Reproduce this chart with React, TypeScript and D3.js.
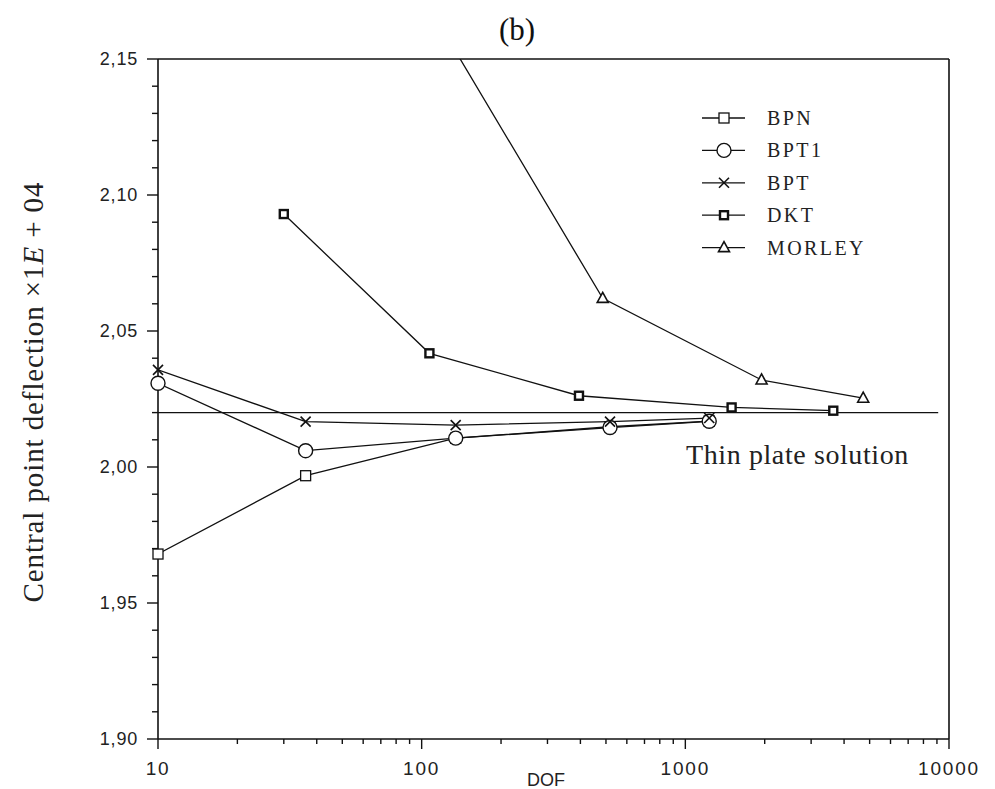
import React from 'react';
import * as d3 from 'd3';

// values
const bpnDof = [10, 36.3, 134.6, 518, 1232];
const bpnVal = [1.968, 1.9968, 2.0106, 2.0148, 2.0169];

const bpt1Dof = [10, 36.3, 134.6, 518, 1232];
const bpt1Val = [2.0308, 2.006, 2.0106, 2.0145, 2.0168];

const bptDof = [10, 36.3, 134.6, 518, 1232];
const bptVal = [2.0357, 2.0167, 2.0154, 2.0167, 2.018];

const dktDof = [30, 107, 395, 1498, 3640];
const dktVal = [2.093, 2.0418, 2.0262, 2.0219, 2.0207];

const morleyDof = [125, 486, 1946, 4727];
const morleyVal = [2.158, 2.062, 2.032, 2.0253];

const thinPlateVal = 2.02;
const thinPlateDof = [10, 9100];

const yMajor = [1.9, 1.95, 2.0, 2.05, 2.1, 2.15];
const yLabels = ['1,90', '1,95', '2,00', '2,05', '2,10', '2,15'];
const yMinor = [1.91, 1.92, 1.93, 1.94, 1.96, 1.97, 1.98, 1.99, 2.01, 2.02, 2.03, 2.04, 2.06, 2.07, 2.08, 2.09, 2.11, 2.12, 2.13, 2.14];
const xMajor = [10, 100, 1000, 10000];
const xLabels = ['10', '100', '1000', '10000'];
const xMinor = [20, 30, 40, 50, 60, 70, 80, 90, 200, 300, 400, 500, 600, 700, 800, 900, 2000, 3000, 4000, 5000, 6000, 7000, 8000, 9000];

const seriesNames = ['BPN', 'BPT1', 'BPT', 'DKT', 'MORLEY'];

const W = 995, H = 789;
const left = 158, right = 949, top = 59, bottom = 739;

const x = d3.scaleLog().domain([10, 10000]).range([left, right]);
const y = d3.scaleLinear().domain([1.9, 2.15]).range([bottom, top]);

const sans = '"Liberation Sans", Arial, sans-serif';
const serif = '"Liberation Serif", "Times New Roman", serif';

type Kind = 'square' | 'circle' | 'cross' | 'dkt' | 'triangle';

function Marker({ kind, cx, cy }: { kind: Kind; cx: number; cy: number }) {
  if (kind === 'square')
    return <rect x={cx - 5} y={cy - 5} width={10} height={10} fill="#fff" stroke="#111" strokeWidth={1.3} />;
  if (kind === 'circle')
    return <circle cx={cx} cy={cy} r={7} fill="#fff" stroke="#111" strokeWidth={1.4} />;
  if (kind === 'cross')
    return (
      <g stroke="#111" strokeWidth={1.6}>
        <line x1={cx - 5} y1={cy - 5} x2={cx + 5} y2={cy + 5} />
        <line x1={cx - 5} y1={cy + 5} x2={cx + 5} y2={cy - 5} />
      </g>
    );
  if (kind === 'dkt')
    return <rect x={cx - 4} y={cy - 4} width={8} height={8} fill="#fff" stroke="#111" strokeWidth={2.4} />;
  return <path d={`M${cx},${cy - 6}L${cx + 5.5},${cy + 4}L${cx - 5.5},${cy + 4}Z`} fill="#fff" stroke="#111" strokeWidth={1.6} />;
}

const series: { name: string; kind: Kind; dof: number[]; val: number[] }[] = [
  { name: seriesNames[0], kind: 'square', dof: bpnDof, val: bpnVal },
  { name: seriesNames[1], kind: 'circle', dof: bpt1Dof, val: bpt1Val },
  { name: seriesNames[2], kind: 'cross', dof: bptDof, val: bptVal },
  { name: seriesNames[3], kind: 'dkt', dof: dktDof, val: dktVal },
  { name: seriesNames[4], kind: 'triangle', dof: morleyDof, val: morleyVal },
];

export default function App() {
  const line = d3.line<[number, number]>().x(d => x(d[0])).y(d => y(d[1]));

  return (
    <svg width={W} height={H} style={{ position: 'absolute', left: 0, top: 0, background: '#fff' }}>
      <defs>
        <clipPath id="plot">
          <rect x={left} y={top} width={right - left} height={bottom - top} />
        </clipPath>
      </defs>
      <rect width={W} height={H} fill="#fff" />

      {/* title */}
      <text x={517} y={40} textAnchor="middle" fontFamily={serif} fontSize={31} fill="#111">(b)</text>

      {/* frame */}
      <g stroke="#111" strokeWidth={1.6} fill="none">
        <line x1={left} y1={top} x2={right} y2={top} />
        <line x1={right} y1={top} x2={right} y2={bottom} />
        <line x1={left} y1={bottom} x2={right} y2={bottom} />
        <line x1={left} y1={top} x2={left} y2={bottom} />
      </g>

      {/* y axis */}
      <g stroke="#111" strokeWidth={1.4}>
        {yMajor.map(v => <line key={'ym' + v} x1={left - 11} x2={left} y1={y(v)} y2={y(v)} />)}
        {yMinor.map(v => <line key={'yn' + v} x1={left - 6} x2={left} y1={y(v)} y2={y(v)} />)}
      </g>
      {yMajor.map((v, i) => (
        <text key={'yl' + v} x={138} y={y(v)} dy="0.36em" textAnchor="end" fontFamily={sans} fontSize={18} letterSpacing={0.8} fill="#222">
          {yLabels[i]}
        </text>
      ))}

      {/* x axis */}
      <g stroke="#111" strokeWidth={1.4}>
        {xMajor.map(v => <line key={'xm' + v} x1={x(v)} x2={x(v)} y1={bottom} y2={bottom + 10} />)}
        {xMinor.map(v => <line key={'xn' + v} x1={x(v)} x2={x(v)} y1={bottom} y2={bottom + 5} />)}
      </g>
      {xMajor.map((v, i) => (
        <text key={'xl' + v} x={x(v)} y={775} textAnchor="middle" fontFamily={sans} fontSize={19} letterSpacing={1.8} fill="#222">
          {xLabels[i]}
        </text>
      ))}
      <text x={546} y={786} textAnchor="middle" fontFamily={sans} fontSize={18} fill="#222">DOF</text>

      {/* y label */}
      <text transform="translate(43,392) rotate(-90)" textAnchor="middle" fontFamily={serif} fontSize={29} letterSpacing={0.9} fill="#222">
        Central point deflection ×1<tspan fontStyle="italic">E</tspan> + 04
      </text>

      {/* thin plate reference */}
      <line x1={x(thinPlateDof[0])} x2={x(thinPlateDof[1])} y1={y(thinPlateVal)} y2={y(thinPlateVal)} stroke="#111" strokeWidth={1.3} />
      <text x={686} y={464} fontFamily={serif} fontSize={28} letterSpacing={0.6} fill="#222">Thin plate solution</text>

      {/* series */}
      <g clipPath="url(#plot)">
        {series.map(s => (
          <path key={'l' + s.name} d={line(s.dof.map((d, i) => [d, s.val[i]] as [number, number])) || ''} fill="none" stroke="#111" strokeWidth={1.3} />
        ))}
      </g>
      {series.map(s => (
        <g key={'m' + s.name}>
          {s.dof.map((d, i) => y(s.val[i]) >= top ? <Marker key={i} kind={s.kind} cx={x(d)} cy={y(s.val[i])} /> : null)}
        </g>
      ))}

      {/* legend */}
      {series.map((s, i) => {
        const ly = 118 + i * 32.4;
        return (
          <g key={'lg' + s.name}>
            <line x1={702} x2={745} y1={ly} y2={ly} stroke="#111" strokeWidth={1.3} />
            <Marker kind={s.kind} cx={724} cy={ly} />
            <text x={767} y={ly + 7} fontFamily={serif} fontSize={20} letterSpacing={2.4} fill="#222">{s.name}</text>
          </g>
        );
      })}
    </svg>
  );
}
